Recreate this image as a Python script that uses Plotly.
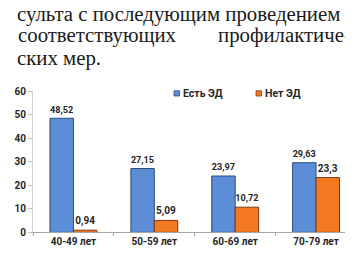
import plotly.graph_objects as go

# ---- data ----
categories = ["40-49 лет", "50-59 лет", "60-69 лет", "70-79 лет"]
est_ed = [48.52, 27.15, 23.97, 29.63]
net_ed = [0.94, 5.09, 10.72, 23.3]
series_names = ["Есть ЭД", "Нет ЭД"]
y_ticks = [0, 10, 20, 30, 40, 50, 60]

text_lines = ["сульта с последующим проведением", "соответствующих", "профилактиче-", "ских мер."]

W, H = 353, 259


def fmt(v):
    return f"{v:g}".replace(".", ",")


def py(pix):
    return 1 - pix / H


def px(pix):
    return pix / W


blue = "#5B8ED6"
orange = "#F47A22"
lblfont = dict(family="Roboto", size=10, color="#262626", weight="bold")

fig = go.Figure()
fig.add_trace(go.Bar(
    x=categories, y=est_ed, name=series_names[0],
    marker=dict(color=blue, line=dict(color="#2E4C78", width=1)),
    text=[fmt(v) for v in est_ed], textposition="outside",
    textfont=dict(family="Roboto", size=10, color="#262626", weight="bold"),
    cliponaxis=False, showlegend=False,
))
fig.add_trace(go.Bar(
    x=categories, y=net_ed, name=series_names[1],
    marker=dict(color=orange, line=dict(color="#7A3A12", width=1)),
    text=[fmt(v) for v in net_ed], textposition="outside",
    textfont=dict(family="Roboto", size=10, color="#262626", weight="bold"),
    cliponaxis=False, showlegend=False,
))

fig.update_layout(
    width=W, height=H,
    margin=dict(l=0, r=0, t=0, b=0),
    paper_bgcolor="white", plot_bgcolor="white",
    barmode="group", bargap=0.42, bargroupgap=0,
    showlegend=False,
    xaxis=dict(
        domain=[px(25), px(348.5)],
        showline=True, linecolor="#A6A6A6", linewidth=1,
        ticks="outside", tickson="boundaries", ticklen=3, tickcolor="#A6A6A6",
        tickfont=lblfont, showgrid=False, zeroline=False,
    ),
    yaxis=dict(
        domain=[py(229), py(81)], range=[0, 60],
        tickvals=y_ticks, ticktext=[str(t) for t in y_ticks],
        showline=True, linecolor="#D0D0D0", linewidth=1,
        ticks="outside", ticklen=4, tickcolor="#BFBFBF",
        tickfont=lblfont, showgrid=False, zeroline=False,
    ),
    font=dict(family="Roboto", size=10, color="#262626"),
)

# manual legend
leg = [(166, series_names[0], blue, "#2E4C78"), (248, series_names[1], orange, "#7A3A12")]
for x0, name, col, lc in leg:
    fig.add_shape(type="rect", xref="paper", yref="paper",
                  x0=px(x0), x1=px(x0 + 5.5), y0=py(86), y1=py(80.5),
                  fillcolor=col, line=dict(color=lc, width=0.8))
    fig.add_annotation(x=px(x0 + 7), y=py(83.5), xref="paper", yref="paper",
                       text=name, showarrow=False, xanchor="left", yanchor="middle",
                       font=dict(family="Roboto", size=10.5, color="#262626", weight="bold"))

# page text above the chart
serif = dict(family="Liberation Serif", size=20.8, color="#1a1a1a")
fig.add_annotation(x=px(8), y=py(0), xref="paper", yref="paper", text=text_lines[0],
                   showarrow=False, xanchor="left", yanchor="middle", font=serif, borderpad=0)
fig.add_annotation(x=px(9), y=py(22), xref="paper", yref="paper", text=text_lines[1],
                   showarrow=False, xanchor="left", yanchor="middle", font=serif, borderpad=0)
fig.add_annotation(x=px(344), y=py(22), xref="paper", yref="paper", text=text_lines[2],
                   showarrow=False, xanchor="right", yanchor="middle", font=serif, borderpad=0)
fig.add_annotation(x=px(8), y=py(46), xref="paper", yref="paper", text=text_lines[3],
                   showarrow=False, xanchor="left", yanchor="middle", font=serif, borderpad=0)

fig.write_html("out.html")
